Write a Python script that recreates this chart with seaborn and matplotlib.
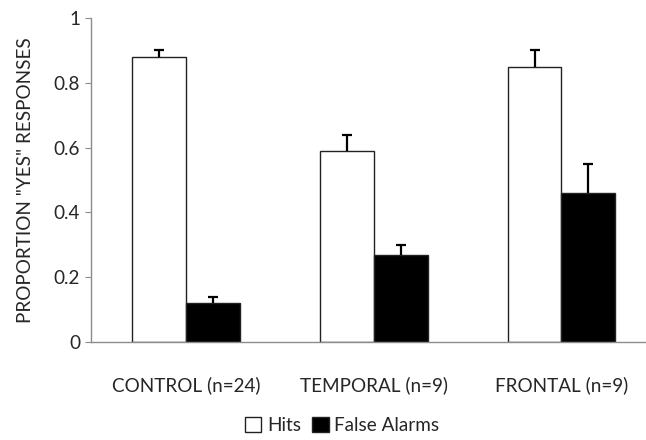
import pandas as pd
import numpy as np
import matplotlib.pyplot as plt
import seaborn as sns
from matplotlib.patches import Patch

# data
groups = ["CONTROL (n=24)", "TEMPORAL (n=9)", "FRONTAL (n=9)"]
hits = [0.88, 0.59, 0.85]
hits_err = [0.02, 0.05, 0.05]
false_alarms = [0.12, 0.27, 0.46]
false_alarms_err = [0.02, 0.03, 0.09]
series = ["Hits", "False Alarms"]

df = pd.DataFrame({
    "group": groups * 2,
    "kind": [series[0]] * 3 + [series[1]] * 3,
    "value": hits + false_alarms,
    "err": hits_err + false_alarms_err,
})

sns.set_style("white")
plt.rcParams["font.family"] = ["Lato", "DejaVu Sans"]
fs = 13.6

fig = plt.figure(figsize=(6.46, 4.40), dpi=100)
ax = fig.add_axes([0.141, 0.2227, 0.859, 0.7363])

sns.barplot(data=df, x="group", y="value", hue="kind", hue_order=series,
            palette=["white", "black"], edgecolor="#222222", linewidth=1,
            width=0.574, gap=0, legend=False, errorbar=None, ax=ax)

# error bars, upper side only (cap only on top)
for patch, (_, row) in zip(ax.patches, df.iterrows()):
    xc = patch.get_x() + patch.get_width() / 2
    top = row["value"] + row["err"]
    ax.plot([xc, xc], [row["value"], top], color="black", lw=1.6,
            solid_capstyle="butt")
    ax.plot(xc, top, marker="_", ms=7, mew=1.6, color="black")

ax.set_xlim(-0.505, 2.45)
ax.set_ylim(0, 1)
ax.set_yticks([0, 0.2, 0.4, 0.6, 0.8, 1])
ax.set_yticklabels(["0", "0.2", "0.4", "0.6", "0.8", "1"])
ax.set_xlabel("")
ax.set_ylabel('PROPORTION "YES" RESPONSES', fontsize=fs, labelpad=14)

for s in ["top", "right"]:
    ax.spines[s].set_visible(False)
for s in ["left", "bottom"]:
    ax.spines[s].set_color("#8c8c8c")
    ax.spines[s].set_linewidth(1)

ax.tick_params(axis="y", left=True, length=4, color="#8c8c8c", labelsize=fs, pad=4)
ax.tick_params(axis="x", bottom=False, labelsize=fs, pad=21)

handles = [Patch(facecolor="white", edgecolor="#222222", linewidth=1),
           Patch(facecolor="black", edgecolor="#222222", linewidth=1)]
fig.legend(handles, series, loc="center", bbox_to_anchor=(0.53, 0.034),
           ncol=2, frameon=False, fontsize=fs, handlelength=0.85,
           handleheight=0.85, handletextpad=0.3, columnspacing=0.6)

fig.savefig("out.png", dpi=100)
